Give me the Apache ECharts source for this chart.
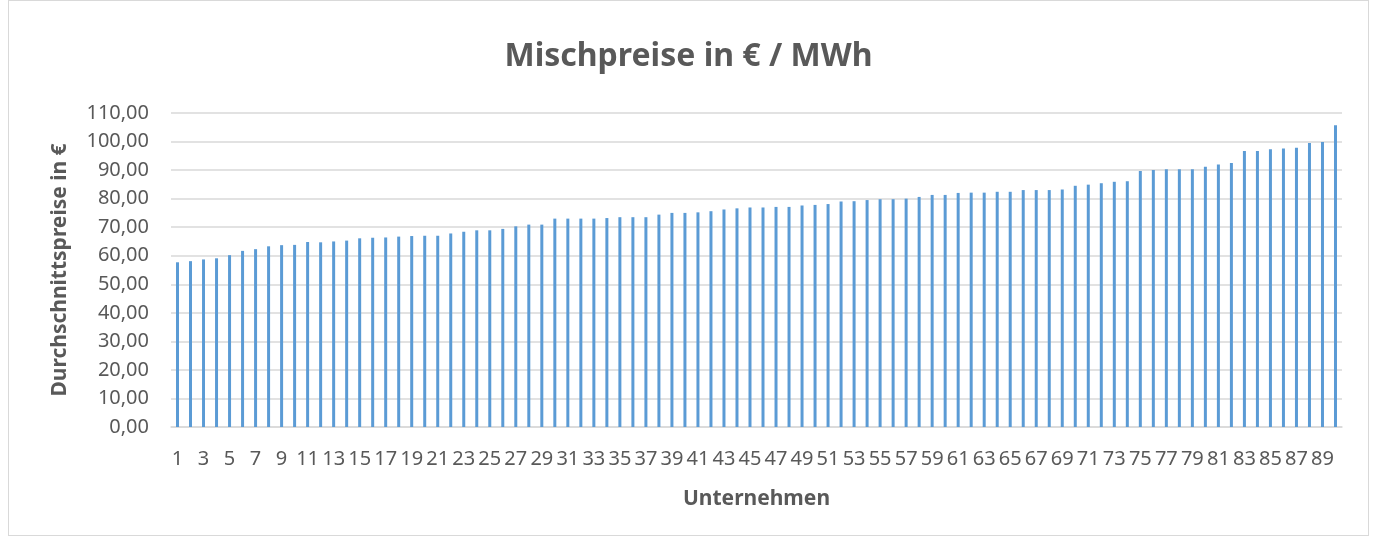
<!DOCTYPE html>
<html>
<head>
<meta charset="utf-8">
<script src="https://cdn.jsdelivr.net/npm/echarts@6/dist/echarts.min.js"></script>
<style>
  html, body { margin: 0; padding: 0; background: #fff; }
  #chart { position: absolute; left: 8px; top: 0; width: 1361px; height: 536px;
           border: 1px solid #d9d9d9; box-sizing: border-box; }
</style>
</head>
<body>
<div id="chart"></div>
<script>
// Unternehmen 1..90, sorted by average price
const companies = Array.from({ length: 90 }, (_, i) => String(i + 1))

const prices = [
  57.7, 58.1, 58.7, 59.1, 60.2, 61.7, 62.3, 63.3, 63.7, 63.8,
  64.8, 64.7, 65.0, 65.3, 66.1, 66.3, 66.4, 66.7, 66.9, 67.0,
  67.0, 67.8, 68.4, 68.9, 68.9, 69.4, 70.3, 70.9, 70.9, 73.0,
  73.0, 73.0, 73.0, 73.2, 73.5, 73.5, 73.5, 74.4, 75.0, 75.0,
  75.2, 75.6, 76.2, 76.6, 76.9, 76.9, 77.1, 77.1, 77.6, 77.8,
  78.1, 79.0, 79.1, 79.5, 79.8, 79.8, 80.0, 80.6, 81.3, 81.3,
  82.0, 82.1, 82.1, 82.4, 82.4, 83.0, 83.0, 83.0, 83.2, 84.5,
  84.9, 85.4, 85.9, 86.1, 89.7, 90.0, 90.3, 90.3, 90.3, 91.2,
  92.0, 92.5, 96.7, 96.7, 97.3, 97.6, 97.8, 99.5, 99.8, 105.7
]

const yMax = 110
const yStep = 10

const textColor = '#595959'
const fontFamily = '"Noto Sans", "Open Sans", sans-serif'

function formatDe(value) {
  return value.toFixed(2).replace('.', ',')
}

const chart = echarts.init(document.getElementById('chart'))

chart.setOption({
  animation: false,
  textStyle: { fontFamily },
  title: {
    text: 'Mischpreise in € / MWh',
    left: 'center',
    top: 35,
    textStyle: { color: textColor, fontSize: 32, fontWeight: 'bold', fontFamily }
  },
  grid: { left: 162, right: 26, top: 112, bottom: 108 },
  xAxis: {
    type: 'category',
    data: companies,
    name: 'Unternehmen',
    nameLocation: 'middle',
    nameGap: 62,
    nameTextStyle: { color: textColor, fontSize: 21, fontWeight: 'bold' },
    axisTick: { show: false },
    axisLine: { lineStyle: { color: '#d9d9d9', width: 1.5 } },
    axisLabel: {
      color: textColor,
      fontSize: 20,
      interval: 1,
      margin: 22
    }
  },
  yAxis: {
    type: 'value',
    min: 0,
    max: yMax,
    interval: yStep,
    name: 'Durchschnittspreise in €',
    nameLocation: 'middle',
    nameRotate: 90,
    nameGap: 100,
    nameTextStyle: { color: textColor, fontSize: 21, fontWeight: 'bold' },
    axisLine: { show: false },
    axisTick: { show: false },
    axisLabel: {
      color: textColor,
      fontSize: 20,
      margin: 22,
      formatter: (v) => formatDe(v)
    },
    splitLine: { lineStyle: { color: '#d9d9d9', width: 1.5 } }
  },
  series: [
    {
      type: 'bar',
      data: prices,
      barWidth: 3,
      itemStyle: { color: '#5b9bd5' }
    }
  ]
})
</script>
</body>
</html>
